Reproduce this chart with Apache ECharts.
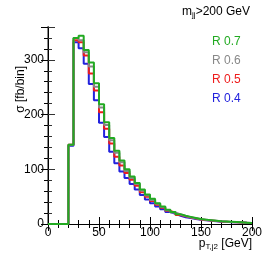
<!DOCTYPE html>
<html><head><meta charset="utf-8">
<script src="https://cdn.jsdelivr.net/npm/echarts@6/dist/echarts.min.js"></script>
<style>html,body{margin:0;padding:0;background:#fff}#c{width:266px;height:261px}</style>
</head><body><div id="c"></div>
<script>
// bin lower edges (GeV), 5 GeV bins from 20 to 195; 0-20 empty
const binEdges = [20,25,30,35,40,45,50,55,60,65,70,75,80,85,90,95,100,105,110,115,120,125,130,135,140,145,150,155,160,165,170,175,180,185,190,195];
const r07 = [145,340,344,318,295,257,219,186,157,134,116,100,87,75,63,54,46,38,32,26,22,18,15,13,11,9,8,7,6,5,4.5,4,3.5,3,2.5,2];
const r06 = [145,340,336,314,288,251,213,181,153,130,113,97,84,73,61,52,44,37,31,25,21,17.5,14.5,12.5,10.5,8.7,7.7,6.7,5.8,4.8,4.3,3.8,3.3,2.9,2.4,1.9];
const r05 = [145,336,332,308,275,244,204,174,147,123,107,93,81,70,58,50,42,35,29.5,24,20.5,16.5,14,12,10,8.4,7.4,6.5,5.6,4.7,4.2,3.7,3.2,2.8,2.3,1.9];
const r04 = [143,332,321,293,256,226,185,159,132,111,96,84,73,63,53,45,38,32,27,22,18.5,15,12.5,11,9.3,7.7,6.8,6,5.2,4.3,3.9,3.4,3,2.6,2.1,1.7];
const xTicks = [0,50,100,150,200];
const yTicks = [0,100,200,300];
const names = ['R 0.7','R 0.6','R 0.5','R 0.4'];
const colors = ['#22aa22','#888888','#ee1c1c','#2222dd'];

function hist(vals){
  const d=[[0,0]];
  for(let i=0;i<binEdges.length;i++) d.push([binEdges[i],vals[i]]);
  d.push([200,vals[vals.length-1]]);
  return d;
}
const F='Liberation Sans, Arial, sans-serif';
const chart=echarts.init(document.getElementById('c'),null,{renderer:'canvas'});
chart.setOption({
  animation:false,
  grid:{left:48,right:14,top:27,bottom:37},
  xAxis:[
    {type:'value',min:0,max:200,interval:50,position:'bottom',
     axisLine:{lineStyle:{color:'#000',width:1}},
     axisTick:{inside:true,length:7,lineStyle:{color:'#000'}},
     minorTick:{show:true,splitNumber:5,length:4,lineStyle:{color:'#000'}},
     splitLine:{show:false},
     axisLabel:{color:'#000',fontFamily:F,fontSize:12,margin:3,
       formatter:v=>xTicks.includes(v)?String(v):''}},
    {type:'value',min:0,max:200,interval:50,position:'top',
     axisLine:{lineStyle:{color:'#000',width:1}},
     axisTick:{inside:true,length:7,lineStyle:{color:'#000'}},
     minorTick:{show:true,splitNumber:5,length:4,lineStyle:{color:'#000'}},
     splitLine:{show:false},axisLabel:{show:false}}
  ],
  yAxis:[
    {type:'value',min:0,max:360,interval:100,position:'left',
     axisLine:{show:true,lineStyle:{color:'#888',width:2}},
     axisTick:{show:true,inside:true,length:7,lineStyle:{color:'#333'}},
     minorTick:{show:true,splitNumber:5,length:4,lineStyle:{color:'#333'}},
     splitLine:{show:false},
     axisLabel:{color:'#000',fontFamily:F,fontSize:12,margin:4,showMaxLabel:false,
       formatter:v=>yTicks.includes(v)?String(v):''}},
    {type:'value',min:0,max:360,interval:100,position:'right',
     axisLine:{show:true,lineStyle:{color:'#000',width:1}},
     axisTick:{show:true,inside:true,length:7,lineStyle:{color:'#000'}},
     minorTick:{show:true,splitNumber:5,length:4,lineStyle:{color:'#000'}},
     splitLine:{show:false},axisLabel:{show:false}}
  ],
  series:[
    {name:names[3],type:'line',step:'end',data:hist(r04),symbol:'none',lineStyle:{color:colors[3],width:2},z:2},
    {name:names[2],type:'line',step:'end',data:hist(r05),symbol:'none',lineStyle:{color:colors[2],width:2},z:3},
    {name:names[1],type:'line',step:'end',data:hist(r06),symbol:'none',lineStyle:{color:colors[1],width:2},z:4},
    {name:names[0],type:'line',step:'end',data:hist(r07),symbol:'none',lineStyle:{color:colors[0],width:2},z:5}
  ],
  graphic:[
    {type:'text',right:16,top:6,style:{text:'{a|m}{s|jj}{a|>200 GeV}',fill:'#000',
      rich:{a:{fontFamily:F,fontSize:12,fill:'#000'},s:{fontFamily:F,fontSize:8,fill:'#000',padding:[6,0,0,0]}}}},
    {type:'text',left:212,top:36,style:{text:names[0],fill:colors[0],font:'12px '+F}},
    {type:'text',left:212,top:55,style:{text:names[1],fill:colors[1],font:'12px '+F}},
    {type:'text',left:212,top:74,style:{text:names[2],fill:colors[2],font:'12px '+F}},
    {type:'text',left:212,top:93,style:{text:names[3],fill:colors[3],font:'12px '+F}},
    {type:'text',right:14,top:238,style:{text:'{a|p}{s|T,j2}{a| [GeV]}',
      rich:{a:{fontFamily:F,fontSize:12,fill:'#000'},s:{fontFamily:F,fontSize:8,fill:'#000',padding:[6,0,0,0]}}}},
    {type:'text',left:15,top:66,rotation:Math.PI/2,style:{text:'σ [fb/bin]',fill:'#000',font:'12px '+F,textAlign:'right',textVerticalAlign:'top'}}
  ]
});
</script></body></html>
